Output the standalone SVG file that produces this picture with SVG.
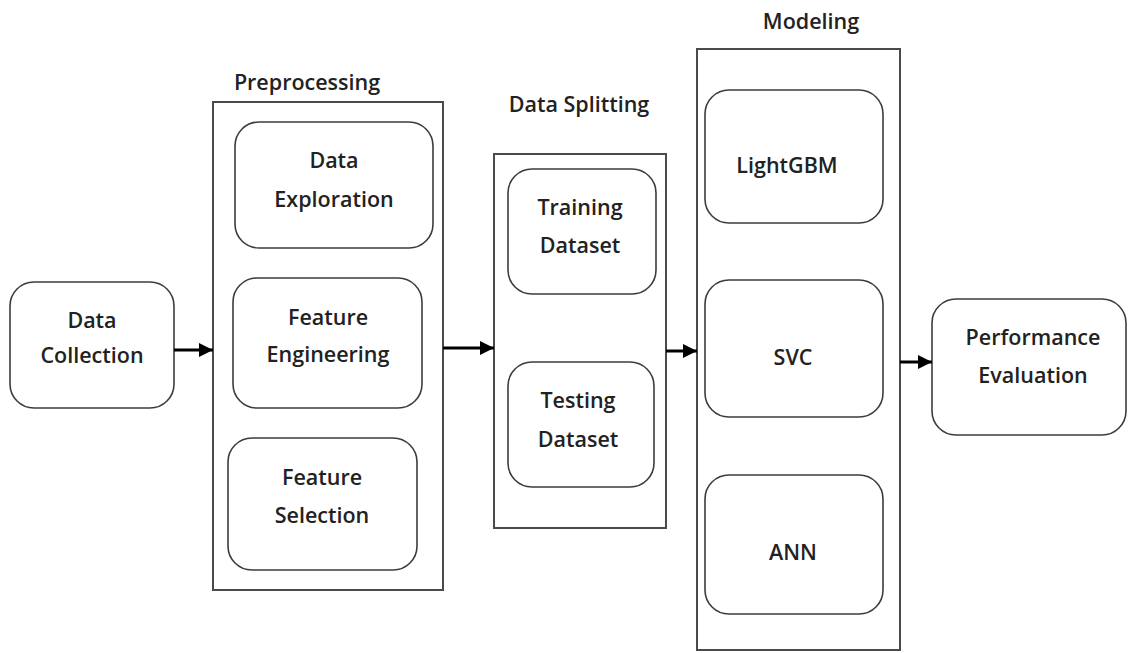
<svg xmlns="http://www.w3.org/2000/svg" width="1128" height="653" viewBox="0 0 1128 653">
<defs>
<style>
.box{fill:#fff;stroke:#3c3c3c;stroke-width:1.6}
.cont{fill:#fff;stroke:#4a4a4a;stroke-width:2}
text{font-family:"Open Sans","Liberation Sans",sans-serif;font-size:21.5px;font-weight:600;fill:#222;text-anchor:middle}
.conn line{stroke:#000;stroke-width:3}
</style>
<marker id="ah" markerWidth="14" markerHeight="14" refX="12" refY="6" orient="auto" markerUnits="userSpaceOnUse" viewBox="0 0 12 12">
<path d="M0,0 L12,6 L0,12 Z" fill="#000"/>
</marker>
</defs>
<rect width="1128" height="653" fill="#fff"/>

<g id="preprocessing">
<rect class="cont" x="213" y="102" width="230" height="488"/>
<text x="307" y="90">Preprocessing</text>
</g>
<g id="data-splitting">
<rect class="cont" x="494" y="154" width="172" height="374"/>
<text x="579" y="112">Data Splitting</text>
</g>
<g id="modeling">
<rect class="cont" x="697" y="49" width="203" height="601"/>
<text x="811" y="29">Modeling</text>
</g>

<g id="data-collection">
<rect class="box" x="10" y="282" width="164" height="126" rx="24"/>
<text x="92" y="328">Data</text>
<text x="92" y="363">Collection</text>
</g>
<g id="data-exploration">
<rect class="box" x="235" y="122" width="198" height="126" rx="24"/>
<text x="334" y="168">Data</text>
<text x="334" y="207">Exploration</text>
</g>
<g id="feature-engineering">
<rect class="box" x="233" y="278" width="189" height="130" rx="24"/>
<text x="328" y="325">Feature</text>
<text x="328" y="362">Engineering</text>
</g>
<g id="feature-selection">
<rect class="box" x="228" y="438" width="189" height="132" rx="24"/>
<text x="322" y="485">Feature</text>
<text x="322" y="523">Selection</text>
</g>
<g id="training-dataset">
<rect class="box" x="508" y="169" width="148" height="125" rx="24"/>
<text x="580" y="215">Training</text>
<text x="580" y="253">Dataset</text>
</g>
<g id="testing-dataset">
<rect class="box" x="508" y="362" width="146" height="125" rx="24"/>
<text x="578" y="408">Testing</text>
<text x="578" y="447">Dataset</text>
</g>
<g id="lightgbm">
<rect class="box" x="705" y="90" width="178" height="133" rx="24"/>
<text x="787" y="173">LightGBM</text>
</g>
<g id="svc">
<rect class="box" x="705" y="280" width="178" height="137" rx="24"/>
<text x="793" y="365">SVC</text>
</g>
<g id="ann">
<rect class="box" x="705" y="475" width="178" height="139" rx="24"/>
<text x="793" y="560">ANN</text>
</g>
<g id="performance-evaluation">
<rect class="box" x="932" y="299" width="194" height="136" rx="24"/>
<text x="1033" y="345">Performance</text>
<text x="1033" y="383">Evaluation</text>
</g>

<g id="connectors" class="conn">
<line x1="174" y1="350" x2="213" y2="350" marker-end="url(#ah)"/>
<line x1="443" y1="348" x2="494" y2="348" marker-end="url(#ah)"/>
<line x1="666" y1="351" x2="697" y2="351" marker-end="url(#ah)"/>
<line x1="900" y1="362" x2="932" y2="362" marker-end="url(#ah)"/>
</g>
</svg>
